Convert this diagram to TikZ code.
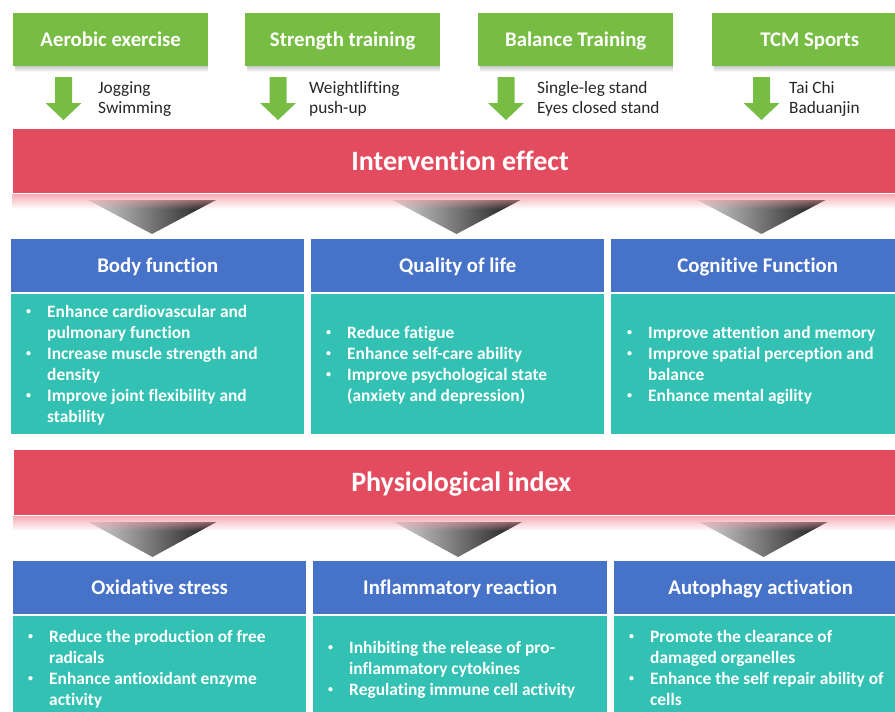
\documentclass[tikz,border=0pt]{standalone}
\usepackage{fontspec}
\setmainfont{Carlito}[Ligatures={NoCommon}]
\usetikzlibrary{fadings}

\definecolor{grn}{HTML}{77BC43}
\definecolor{bandred}{HTML}{E34C5F}
\definecolor{glowpink}{HTML}{F2A2AC}
\definecolor{hdrblue}{HTML}{4672C8}
\definecolor{tealbox}{HTML}{32C1B3}
\definecolor{labelgray}{HTML}{262626}
\definecolor{trilight}{HTML}{D6D6D6}
\definecolor{tridark}{HTML}{151515}

\tikzset{
  greenbox/.style={fill=grn, draw=none, text=white, inner sep=0pt,
    minimum width=195pt, minimum height=53pt, anchor=north west,
    text height=13.4pt, text depth=0pt,
    font=\fontsize{20.8}{25}\selectfont\bfseries},
  blockarrow/.style={fill=grn, draw=none},
  sublabel/.style={text=labelgray, inner sep=0pt, anchor=base west,
    font=\fontsize{17.3}{20.5}\selectfont},
  band/.style={fill=bandred, draw=white, line width=1.3pt, text=white,
    inner sep=0pt, minimum width=895pt, minimum height=65pt, anchor=north west,
    text height=18pt, text depth=0pt,
    font=\fontsize{28}{34}\selectfont\bfseries},
  glow/.style={fill=glowpink, path fading=south},
  funnel/.style={left color=trilight, right color=tridark},
  hdr/.style={fill=hdrblue, draw=none, text=white, inner sep=0pt,
    minimum height=53pt, anchor=north west,
    text height=13.4pt, text depth=0pt,
    font=\fontsize{20.8}{25}\selectfont\bfseries},
  panel/.style={fill=tealbox, draw=none, inner sep=0pt, anchor=north west},
  items/.style={text=white, inner sep=0pt, anchor=base west,
    font=\fontsize{17.4}{21}\selectfont\bfseries},
}

% small list bullet, as in the slide template
\newcommand{\dotmark}{\hspace*{1pt}\raisebox{2.2pt}{\fontsize{10}{10}\selectfont\textbullet}}
\newcommand{\bulletlist}[1]{\begin{tabular}[t]{@{}p{22pt}@{}l@{}}#1\end{tabular}}
\newcommand{\twolines}[2]{\begin{tabular}[t]{@{}l@{}}#1\\#2\end{tabular}}

\begin{document}
\begin{tikzpicture}[x=1pt,y=-1pt]
\useasboundingbox (0,0) rectangle (895,712);
\begin{scope}
\clip (0,0) rectangle (895,712);

% soft shadows under the exercise boxes
\foreach \gx in {13,245,478,712}
  \fill[black!22, path fading=south] (\gx+2,66) rectangle (\gx+195,72);

% exercise types
\node[greenbox] (g1) at (13,13)  {Aerobic exercise};
\node[greenbox] (g2) at (245,13) {Strength training};
\node[greenbox] (g3) at (478,13) {Balance Training};
\node[greenbox] (g4) at (712,13) {TCM Sports};

% downward block arrows
\foreach \ax in {63.5,278,506,761.5}
  \fill[blockarrow] (\ax-8.5,77) -- (\ax+8.5,77) -- (\ax+8.5,103) -- (\ax+18,103)
    -- (\ax,120) -- (\ax-18,103) -- (\ax-8.5,103) -- cycle;

% example activities
\node[sublabel] (e1) at (98,93)  {\twolines{Jogging}{Swimming}};
\node[sublabel] (e2) at (309,93) {\twolines{Weightlifting}{push-up}};
\node[sublabel] (e3) at (537,93) {\twolines{Single-leg stand}{Eyes closed stand}};
\node[sublabel] (e4) at (789,93) {\twolines{Tai Chi}{Baduanjin}};

% funnels below the first band
\foreach \tc in {152,456.5,761.5}
  \shade[funnel] (\tc-64,200) -- (\tc+64,200) -- (\tc,234) -- cycle;
\fill[glow] (12,192) rectangle (907,209);

\node[band] (ie) at (12,128) {Intervention effect};

% intervention effect categories
\node[hdr, minimum width=293pt] (h1) at (11,239)  {Body function};
\node[hdr, minimum width=293pt] (h2) at (311,239) {Quality of life};
\node[hdr, minimum width=293pt] (h3) at (611,239) {Cognitive Function};

\node[panel, minimum width=293pt, minimum height=140pt] (p1) at (11,294)  {};
\node[panel, minimum width=293pt, minimum height=140pt] (p2) at (311,294) {};
\node[panel, minimum width=293pt, minimum height=140pt] (p3) at (611,294) {};

\node[items] (l1) at (25,317) {\bulletlist{%
  \dotmark & Enhance cardiovascular and\\
  & pulmonary function\\
  \dotmark & Increase muscle strength and\\
  & density\\
  \dotmark & Improve joint flexibility and\\
  & stability}};
\node[items] (l2) at (325,338) {\bulletlist{%
  \dotmark & Reduce fatigue\\
  \dotmark & Enhance self-care ability\\
  \dotmark & Improve psychological state\\
  & (anxiety and depression)}};
\node[items] (l3) at (626,338) {\bulletlist{%
  \dotmark & Improve attention and memory\\
  \dotmark & Improve spatial perception and\\
  & balance\\
  \dotmark & Enhance mental agility}};

% funnels below the second band
\foreach \tc in {152.5,458,763.5}
  \shade[funnel] (\tc-64,522) -- (\tc+64,522) -- (\tc,557) -- cycle;
\fill[glow] (13,514) rectangle (907,531);

\node[band, minimum height=66pt] (pi) at (13,449) {Physiological index};

% physiological mechanisms
\node[hdr, minimum width=293pt] (h4) at (13,561)  {Oxidative stress};
\node[hdr, minimum width=294pt] (h5) at (313,561) {Inflammatory reaction};
\node[hdr, minimum width=293pt] (h6) at (614,561) {Autophagy activation};

\node[panel, minimum width=293pt, minimum height=100pt] (p4) at (13,616)  {};
\node[panel, minimum width=294pt, minimum height=100pt] (p5) at (313,616) {};
\node[panel, minimum width=293pt, minimum height=100pt] (p6) at (614,616) {};

\node[items] (l4) at (27,642) {\bulletlist{%
  \dotmark & Reduce the production of free\\
  & radicals\\
  \dotmark & Enhance antioxidant enzyme\\
  & activity}};
\node[items] (l5) at (327,653) {\bulletlist{%
  \dotmark & Inhibiting the release of pro-\\
  & inflammatory cytokines\\
  \dotmark & Regulating immune cell activity}};
\node[items] (l6) at (628,642) {\bulletlist{%
  \dotmark & Promote the clearance of\\
  & damaged organelles\\
  \dotmark & Enhance the self repair ability of\\
  & cells}};
\end{scope}
\end{tikzpicture}
\end{document}
